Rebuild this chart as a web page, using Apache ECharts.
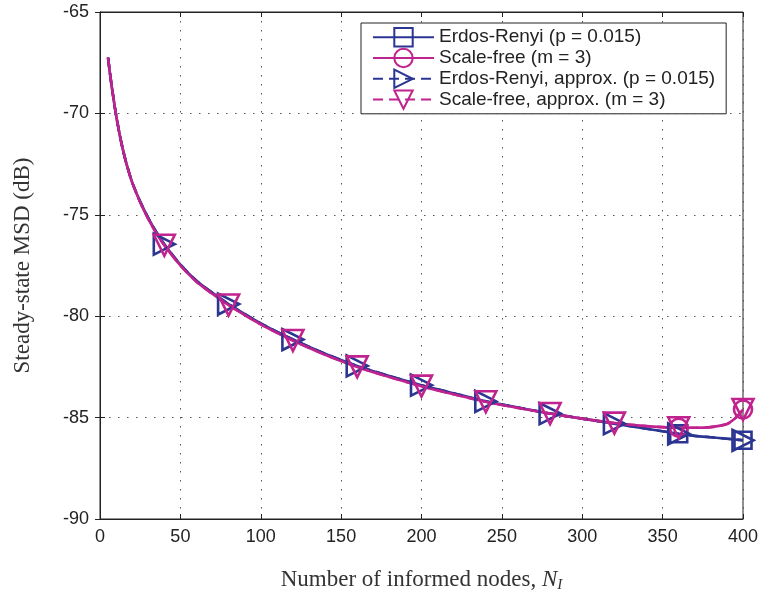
<!DOCTYPE html>
<html>
<head>
<meta charset="utf-8">
<script src="https://cdn.jsdelivr.net/npm/echarts@6/dist/echarts.min.js"></script>
<style>
  html, body { margin: 0; padding: 0; background: #fff; }
  #chart { width: 764px; height: 602px; }
</style>
</head>
<body>
<div id="chart"></div>
<script>
// Number of informed nodes (sample positions along each curve)
const nodes = [5, 6, 7, 8, 9, 10, 12, 14, 16, 18, 20, 25, 30, 35, 40, 50, 60, 70, 80, 100, 120, 140,
               160, 180, 200, 220, 240, 260, 280, 300, 320, 340, 360, 370, 380, 390, 395, 398, 400];

// Steady-state MSD (dB), simulation
const erSim = [-67.25, -67.9, -68.5, -69.05, -69.58, -70.08, -70.95, -71.7, -72.35, -72.9, -73.4, -74.35,
               -75.15, -75.85, -76.45, -77.45, -78.25, -78.85, -79.4, -80.35, -81.15, -81.85, -82.45,
               -82.95, -83.4, -83.8, -84.2, -84.5, -84.8, -85.05, -85.3, -85.55, -85.8, -85.9, -85.97,
               -86.04, -86.08, -86.1, -86.12];
const sfSim = [-67.25, -67.9, -68.5, -69.05, -69.58, -70.08, -70.95, -71.7, -72.35, -72.9, -73.4, -74.38,
               -75.2, -75.9, -76.5, -77.5, -78.3, -78.9, -79.45, -80.4, -81.2, -81.9, -82.5,
               -83.0, -83.45, -83.85, -84.22, -84.52, -84.8, -85.05, -85.27, -85.42, -85.5, -85.5, -85.47,
               -85.32, -85.05, -84.8, -84.6];

// Steady-state MSD (dB), analytical approximation
const erApprox = [-67.25, -67.9, -68.5, -69.05, -69.58, -70.08, -70.95, -71.7, -72.35, -72.9, -73.4, -74.35,
                  -75.15, -75.85, -76.45, -77.45, -78.25, -78.85, -79.4, -80.35, -81.15, -81.85, -82.45,
                  -82.95, -83.4, -83.8, -84.2, -84.5, -84.8, -85.05, -85.3, -85.55, -85.8, -85.9, -85.97,
                  -86.04, -86.08, -86.1, -86.12];
const sfApprox = [-67.25, -67.9, -68.5, -69.05, -69.58, -70.08, -70.95, -71.7, -72.35, -72.9, -73.4, -74.38,
                  -75.2, -75.9, -76.5, -77.5, -78.3, -78.9, -79.45, -80.4, -81.2, -81.9, -82.5,
                  -83.0, -83.45, -83.85, -84.22, -84.52, -84.8, -85.05, -85.27, -85.42, -85.5, -85.5, -85.47,
                  -85.32, -85.05, -84.8, -84.6];

// Positions where markers are drawn
const simMarkerAt = [360, 400];
const approxMarkerAt = [40, 80, 120, 160, 200, 240, 280, 320, 360, 400];

const seriesNames = [
  'Erdos-Renyi (p = 0.015)',
  'Scale-free (m = 3)',
  'Erdos-Renyi, approx. (p = 0.015)',
  'Scale-free, approx. (m = 3)'
];

const xTicks = [0, 50, 100, 150, 200, 250, 300, 350, 400];
const yTicks = [-90, -85, -80, -75, -70, -65];

const BLUE = '#2b3592';
const PINK = '#c0228e';

function build(values, markAt) {
  return nodes.map((x, i) => {
    const item = { value: [x, values[i]] };
    if (markAt.indexOf(x) < 0) item.symbol = 'none';
    return item;
  });
}

function lineSeries(name, values, markAt, color, symbol, rotate, dashed, size) {
  return {
    name: name,
    type: 'line',
    data: build(values, markAt),
    smooth: 0.25,
    symbol: symbol,
    symbolSize: size,
    symbolRotate: rotate,
    showAllSymbol: true,
    lineStyle: { color: color, width: 2.6, type: dashed ? [10, 6] : 'solid' },
    itemStyle: { color: 'rgba(255,255,255,0)', borderColor: color, borderWidth: 2.6 },
    emphasis: { disabled: true },
    animation: false,
    z: 3
  };
}

const chart = echarts.init(document.getElementById('chart'), null, { renderer: 'canvas' });

const tickFont = { fontFamily: 'Liberation Sans, Arial, sans-serif', fontSize: 18, color: '#222' };
const dotted = { color: '#555', width: 1, type: [1.5, 7.5] };
const serif = 'Liberation Serif, Times New Roman, serif';

chart.setOption({
  backgroundColor: '#fff',
  animation: false,
  grid: { left: 100, right: 21, top: 12, bottom: 83, show: true, borderColor: '#222', borderWidth: 1 },
  legend: {
    orient: 'vertical',
    left: 361,
    top: 23,
    padding: [4, 11, 4, 11],
    itemWidth: 61,
    itemHeight: 23,
    itemGap: 0.4,
    backgroundColor: '#fff',
    borderColor: '#222',
    borderWidth: 1,
    borderRadius: 0,
    textStyle: { fontFamily: 'Liberation Sans, Arial, sans-serif', fontSize: 19, color: '#222' },
    data: seriesNames
  },
  xAxis: [{
    type: 'value', min: 0, max: 400, interval: 50, position: 'bottom',
    name: '{a|Number of informed nodes, }{n|N}{s|I}',
    nameLocation: 'middle', nameGap: 48,
    nameTextStyle: {
      rich: {
        a: { fontFamily: serif, fontSize: 23, color: '#333' },
        n: { fontFamily: serif, fontSize: 23, fontStyle: 'italic', color: '#333' },
        s: { fontFamily: serif, fontSize: 15, fontStyle: 'italic', color: '#333', padding: [11, 0, 0, 0] }
      }
    },
    axisLine: { show: true, onZero: false, lineStyle: { color: '#222', width: 1 } },
    axisTick: { show: true, inside: true, length: 5, lineStyle: { color: '#222' } },
    axisLabel: Object.assign({ margin: 9, formatter: v => (xTicks.indexOf(v) >= 0 ? String(v) : '') }, tickFont),
    splitLine: { show: true, lineStyle: dotted }
  }, {
    type: 'value', min: 0, max: 400, interval: 50, position: 'top',
    axisLine: { show: true, lineStyle: { color: '#222', width: 1 } },
    axisTick: { show: true, inside: true, length: 5, lineStyle: { color: '#222' } },
    axisLabel: { show: false },
    splitLine: { show: false }
  }],
  yAxis: [{
    type: 'value', min: -90, max: -65, interval: 5, position: 'left',
    name: 'Steady-state MSD (dB)',
    nameLocation: 'middle', nameGap: 66, nameRotate: 90,
    nameTextStyle: { fontFamily: serif, fontSize: 23, color: '#333' },
    axisLine: { show: true, onZero: false, lineStyle: { color: '#222', width: 1 } },
    axisTick: { show: true, inside: true, length: 5, lineStyle: { color: '#222' } },
    axisLabel: Object.assign({ margin: 11, formatter: v => (yTicks.indexOf(v) >= 0 ? String(v) : '') }, tickFont),
    splitLine: { show: true, lineStyle: dotted }
  }, {
    type: 'value', min: -90, max: -65, interval: 5, position: 'right',
    axisLine: { show: true, lineStyle: { color: '#222', width: 1 } },
    axisTick: { show: true, inside: true, length: 5, lineStyle: { color: '#222' } },
    axisLabel: { show: false },
    splitLine: { show: false }
  }],
  series: [
    lineSeries(seriesNames[0], erSim, simMarkerAt, BLUE, 'rect', 0, false, 17),
    lineSeries(seriesNames[1], sfSim, simMarkerAt, PINK, 'circle', 0, false, 18),
    lineSeries(seriesNames[2], erApprox, approxMarkerAt, BLUE, 'triangle', -90, true, 21),
    lineSeries(seriesNames[3], sfApprox, approxMarkerAt, PINK, 'triangle', 180, true, 21)
  ]
});
</script>
</body>
</html>
